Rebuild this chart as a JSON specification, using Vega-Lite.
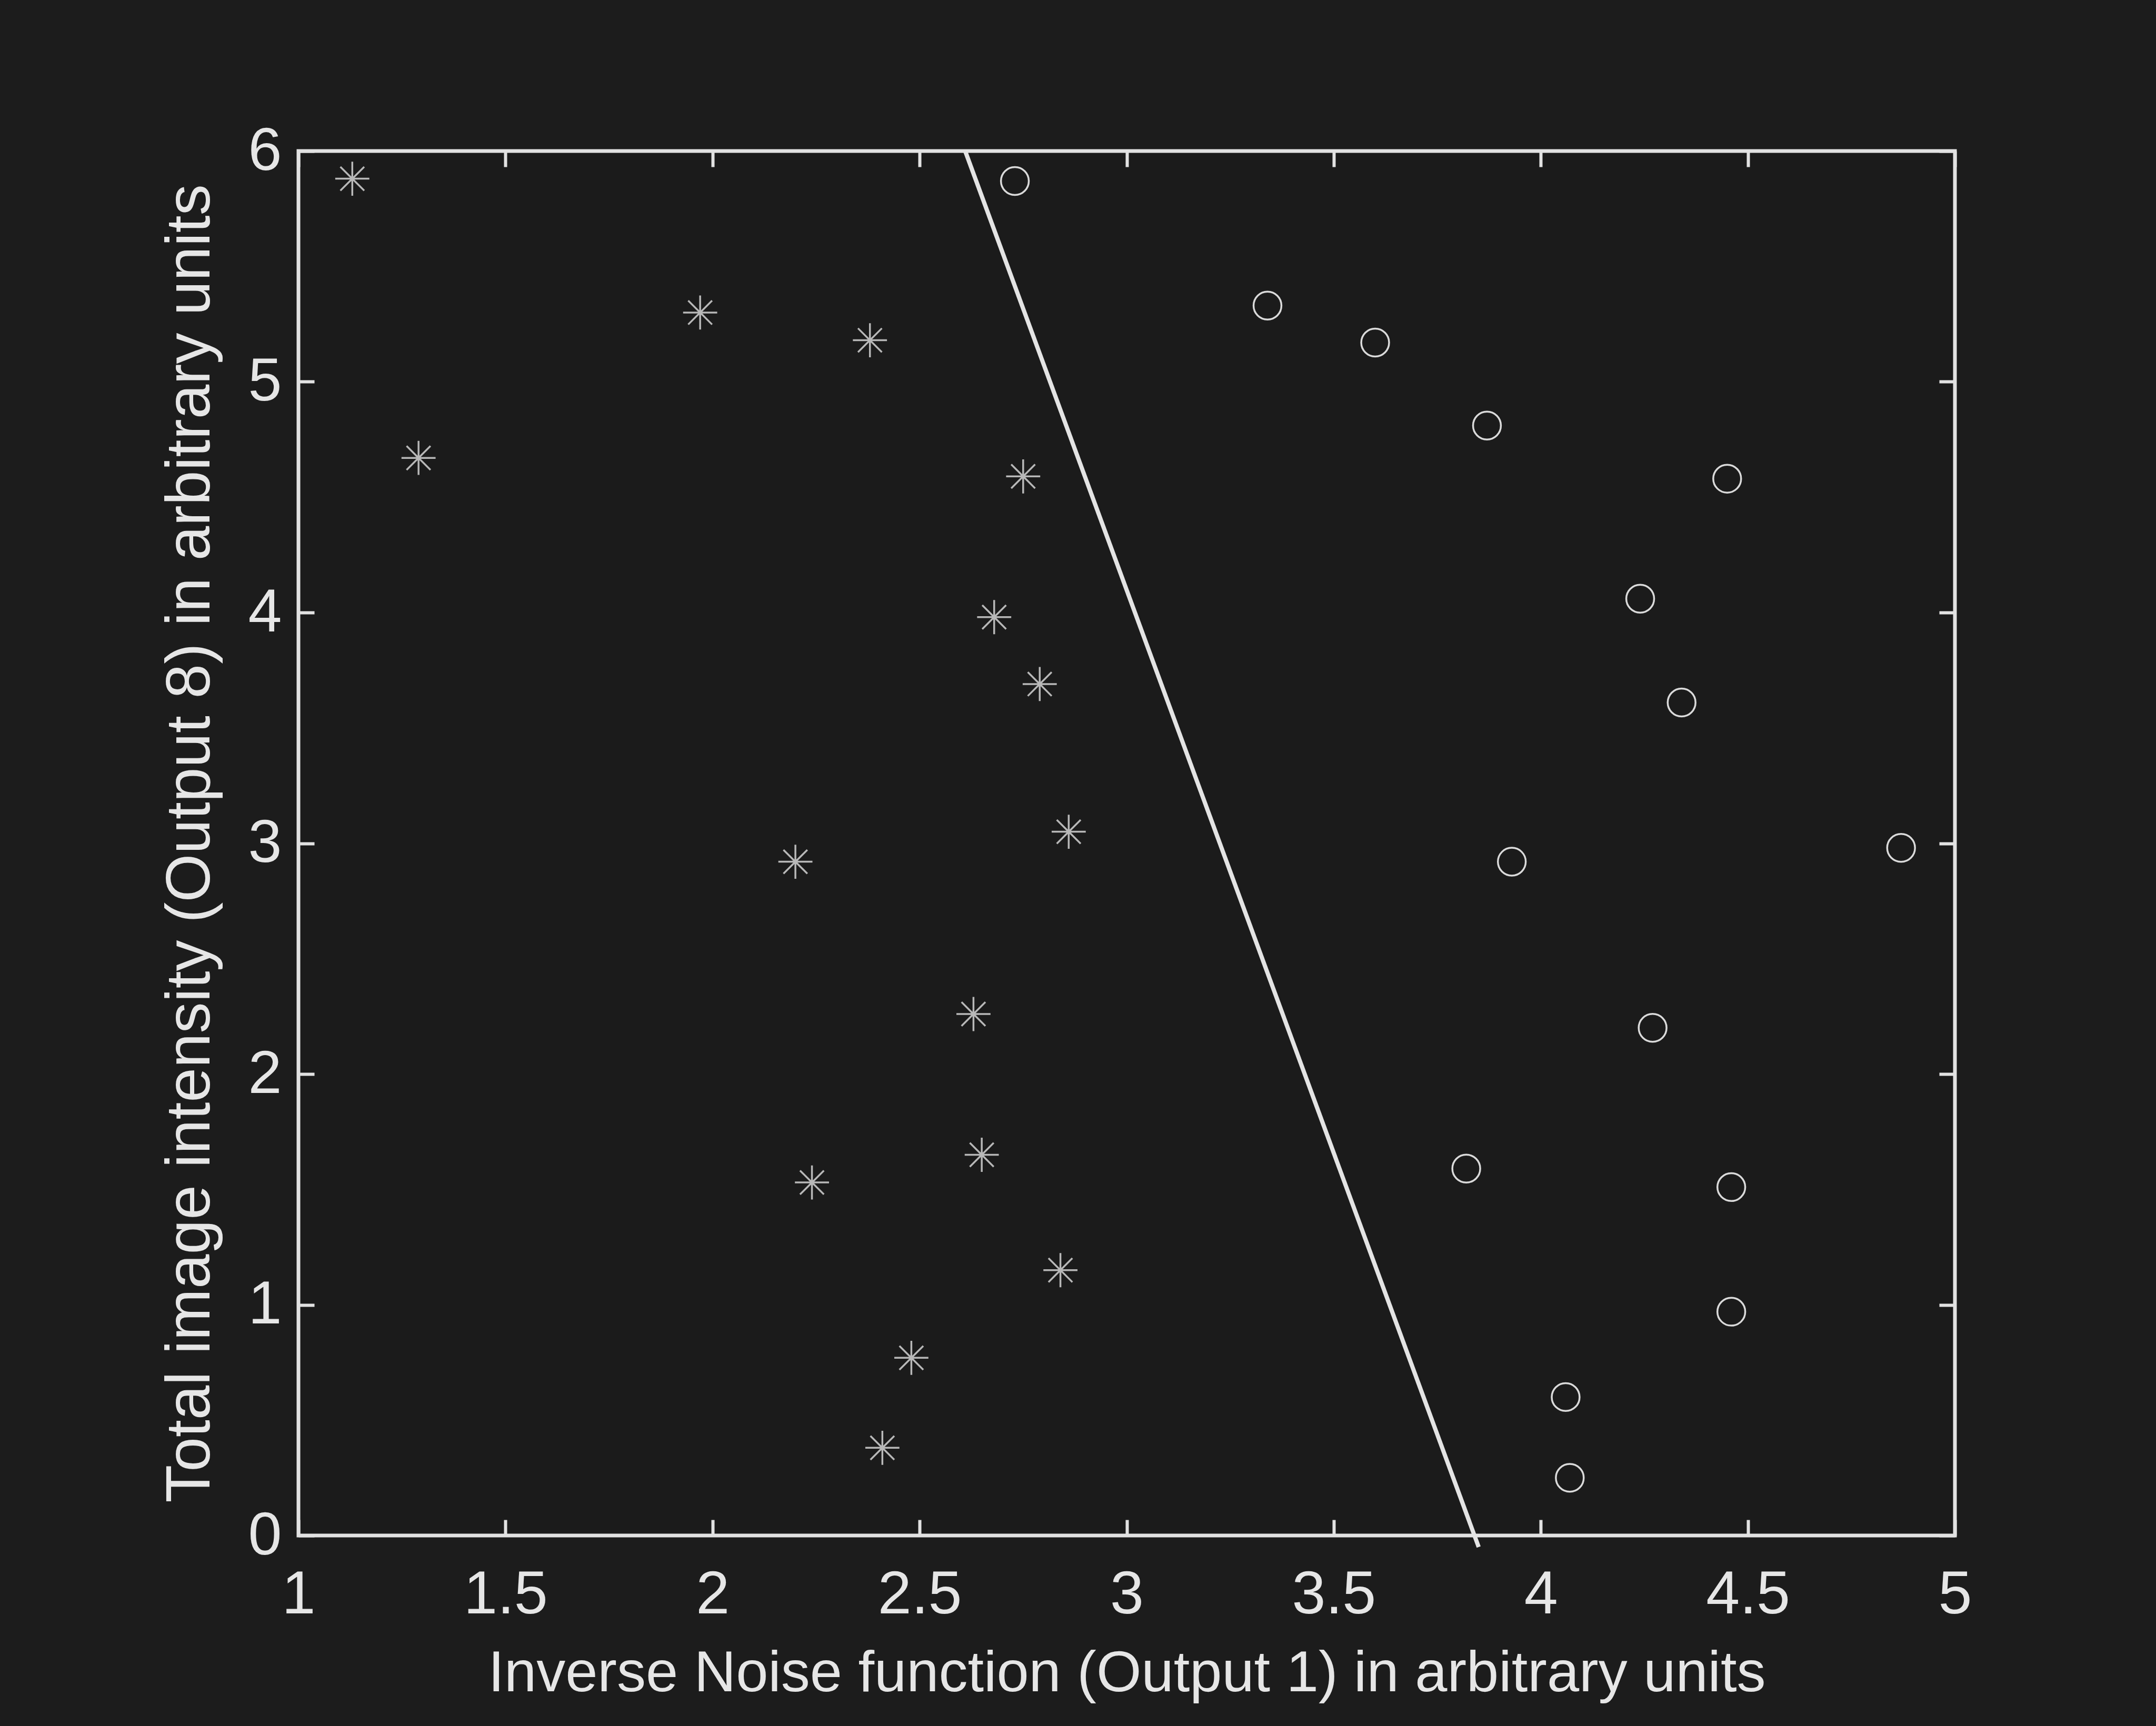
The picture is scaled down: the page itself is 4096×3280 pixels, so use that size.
{
  "$schema": "https://vega.github.io/schema/vega-lite/v6.json",
  "width": 3147,
  "height": 2631,
  "autosize": {"type": "none"},
  "padding": {"left": 567, "top": 287, "right": 382, "bottom": 362},
  "background": "#1c1c1c",
  "config": {
    "font": "Liberation Sans",
    "view": {"stroke": "#e2e2e2", "strokeWidth": 7, "fill": "#1b1b1b"},
    "axis": {
      "domain": false,
      "grid": false,
      "tickColor": "#e2e2e2",
      "tickWidth": 6,
      "tickSize": -30,
      "labelColor": "#e6e6e6",
      "labelFontSize": 115,
      "labelFont": "Liberation Sans",
      "labelFlush": false,
      "labelOverlap": false,
      "titleColor": "#e6e6e6",
      "titleFont": "Liberation Sans",
      "titleFontWeight": "normal"
    }
  },
  "datasets": {
    "asterisks": [
      {"noise": 1.13, "intensity": 5.88},
      {"noise": 1.29, "intensity": 4.67},
      {"noise": 1.97, "intensity": 5.30},
      {"noise": 2.38, "intensity": 5.18},
      {"noise": 2.75, "intensity": 4.59},
      {"noise": 2.68, "intensity": 3.98},
      {"noise": 2.79, "intensity": 3.69},
      {"noise": 2.86, "intensity": 3.05},
      {"noise": 2.20, "intensity": 2.92},
      {"noise": 2.63, "intensity": 2.26},
      {"noise": 2.65, "intensity": 1.65},
      {"noise": 2.24, "intensity": 1.53},
      {"noise": 2.84, "intensity": 1.15},
      {"noise": 2.48, "intensity": 0.77},
      {"noise": 2.41, "intensity": 0.38}
    ],
    "circles": [
      {"noise": 2.73, "intensity": 5.87},
      {"noise": 3.34, "intensity": 5.33},
      {"noise": 3.60, "intensity": 5.17},
      {"noise": 3.87, "intensity": 4.81},
      {"noise": 4.45, "intensity": 4.58},
      {"noise": 4.24, "intensity": 4.06},
      {"noise": 4.34, "intensity": 3.61},
      {"noise": 3.93, "intensity": 2.92},
      {"noise": 4.87, "intensity": 2.98},
      {"noise": 4.27, "intensity": 2.20},
      {"noise": 3.82, "intensity": 1.59},
      {"noise": 4.46, "intensity": 1.51},
      {"noise": 4.46, "intensity": 0.97},
      {"noise": 4.06, "intensity": 0.60},
      {"noise": 4.07, "intensity": 0.25}
    ],
    "boundary": [
      {"noise": 2.61, "intensity": 6.0},
      {"noise": 3.85, "intensity": -0.05}
    ]
  },
  "resolve": {"axis": {"x": "independent", "y": "independent"}},
  "layer": [
    {
      "data": {"name": "circles"},
      "mark": {"type": "point", "shape": "circle", "filled": false, "size": 2800, "strokeWidth": 3.5, "color": "#dadada", "opacity": 1},
      "encoding": {
        "x": {
          "field": "noise", "type": "quantitative",
          "scale": {"domain": [1, 5], "nice": false, "zero": false},
          "axis": {
            "orient": "bottom",
            "values": [1, 1.5, 2, 2.5, 3, 3.5, 4, 4.5, 5],
            "format": "~g",
            "labelPadding": 86,
            "title": "Inverse Noise function (Output 1) in arbitrary units",
            "titleFontSize": 110,
            "titlePadding": 38
          }
        },
        "y": {
          "field": "intensity", "type": "quantitative",
          "scale": {"domain": [0, 6], "nice": false, "zero": false},
          "axis": {
            "orient": "left",
            "values": [0, 1, 2, 3, 4, 5, 6],
            "format": "d",
            "labelPadding": 62,
            "title": "Total image intensity (Output 8) in arbitrary units",
            "titleFontSize": 118,
            "titlePadding": 49
          }
        }
      }
    },
    {
      "data": {"name": "asterisks"},
      "mark": {"type": "point", "shape": "M-1,0L1,0M0,-1L0,1M-0.7,-0.7L0.7,0.7M-0.7,0.7L0.7,-0.7", "filled": false, "size": 4200, "strokeWidth": 3.5, "color": "#b8b8b8", "opacity": 1},
      "encoding": {
        "x": {
          "field": "noise", "type": "quantitative",
          "axis": {"orient": "top", "values": [1, 1.5, 2, 2.5, 3, 3.5, 4, 4.5, 5], "labels": false, "title": null}
        },
        "y": {
          "field": "intensity", "type": "quantitative",
          "axis": {"orient": "right", "values": [0, 1, 2, 3, 4, 5, 6], "labels": false, "title": null}
        }
      }
    },
    {
      "data": {"name": "boundary"},
      "mark": {"type": "line", "clip": false, "strokeWidth": 8, "color": "#e4e4e4"},
      "encoding": {
        "x": {"field": "noise", "type": "quantitative", "axis": null},
        "y": {"field": "intensity", "type": "quantitative", "axis": null}
      }
    }
  ]
}
